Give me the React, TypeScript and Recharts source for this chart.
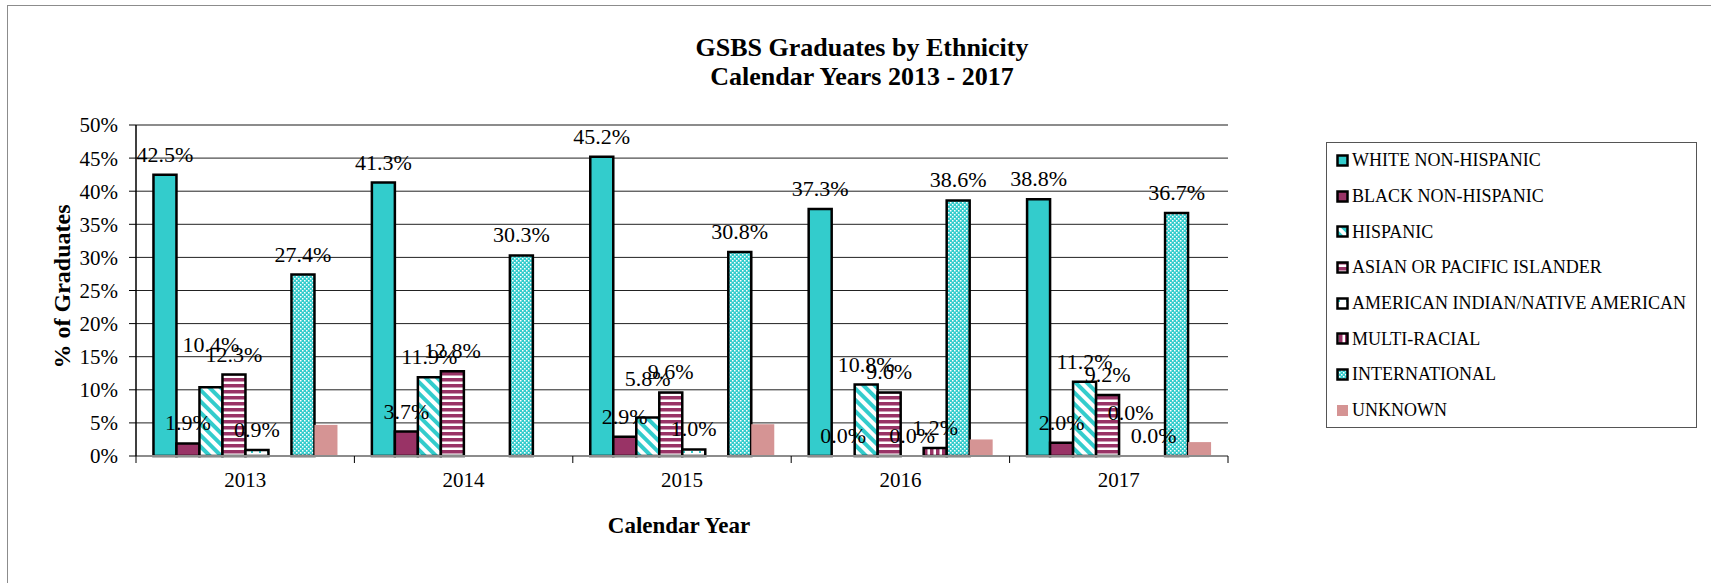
// GSBS graduates by ethnicity, 2013-2017: patterned grouped bars in Recharts
import { BarChart, Bar, XAxis, YAxis, CartesianGrid, LabelList, Legend, ReferenceLine, Rectangle } from 'recharts';

const years = ['2013', '2014', '2015', '2016', '2017'];
const whiteNonHispanic = [42.5, 41.3, 45.2, 37.3, 38.8];
const blackNonHispanic = [1.9, 3.7, 2.9, 0.0, 2.0];
const hispanic = [10.4, 11.9, 5.8, 10.8, 11.2];
const asianPacific = [12.3, 12.8, 9.6, 9.6, 9.2];
const americanIndian = [0.9, null, 1.0, 0.0, 0.0];
const multiRacial = [null, null, null, 1.2, 0.0];
const international = [27.4, 30.3, 30.8, 38.6, 36.7];
const unknown = [4.7, null, 4.8, 2.5, 2.1];
const yTicks = [0, 5, 10, 15, 20, 25, 30, 35, 40, 45, 50];

const TEAL = '#33CCCC';
const MAROON = '#993366';
const PINK = '#D59494';
const FONT = '"Liberation Serif", "Times New Roman", serif';

// a few labels sit higher in the original, clear of their neighbours
const labelLift: Record<string, number> = { 'amerind-2017': 23, 'hispanic-2013': 22, 'hispanic-2015': 19 };

const series = [
  { key: 'white', name: 'WHITE NON-HISPANIC', fill: TEAL, outlined: true, labelled: true },
  { key: 'black', name: 'BLACK NON-HISPANIC', fill: MAROON, outlined: true, labelled: true },
  { key: 'hispanic', name: 'HISPANIC', fill: 'url(#pat-diag)', outlined: true, labelled: true },
  { key: 'asian', name: 'ASIAN OR PACIFIC ISLANDER', fill: 'url(#pat-hstripe)', outlined: true, labelled: true },
  { key: 'amerind', name: 'AMERICAN INDIAN/NATIVE AMERICAN', fill: 'url(#pat-dots)', outlined: true, labelled: true },
  { key: 'multi', name: 'MULTI-RACIAL', fill: 'url(#pat-vstripe)', outlined: true, labelled: true },
  { key: 'intl', name: 'INTERNATIONAL', fill: 'url(#pat-check)', outlined: true, labelled: true },
  { key: 'unknown', name: 'UNKNOWN', fill: PINK, outlined: false, labelled: false },
];

const data = years.map((year, i) => ({
  year,
  white: whiteNonHispanic[i],
  black: blackNonHispanic[i],
  hispanic: hispanic[i],
  asian: asianPacific[i],
  amerind: americanIndian[i],
  multi: multiRacial[i],
  intl: international[i],
  unknown: unknown[i],
}));

function Patterns() {
  return (
    <svg width={0} height={0} style={{ position: 'absolute' }}>
      <defs>
        <pattern id="pat-diag" width={8} height={8} patternUnits="userSpaceOnUse" patternTransform="rotate(-45)">
          <rect width={8} height={8} fill="#fff" />
          <rect width={4} height={8} fill={TEAL} />
        </pattern>
        <pattern id="pat-hstripe" width={6} height={6} patternUnits="userSpaceOnUse">
          <rect width={6} height={6} fill="#fff" />
          <rect width={6} height={3.5} fill={MAROON} />
        </pattern>
        <pattern id="pat-vstripe" width={6} height={6} patternUnits="userSpaceOnUse">
          <rect width={6} height={6} fill="#fff" />
          <rect width={3.5} height={6} fill={MAROON} />
        </pattern>
        <pattern id="pat-dots" width={8} height={8} patternUnits="userSpaceOnUse">
          <rect width={8} height={8} fill="#fff" />
          <rect x={3} y={3} width={2} height={2} fill={TEAL} />
        </pattern>
        <pattern id="pat-check" width={4} height={4} patternUnits="userSpaceOnUse">
          <rect width={4} height={4} fill={TEAL} />
          <rect x={0} y={0} width={1.5} height={1.5} fill="#fff" />
          <rect x={2} y={2} width={1.5} height={1.5} fill="#fff" />
        </pattern>
      </defs>
    </svg>
  );
}

// zero values get a hairline height so their label is kept, but no bar is drawn
const zeroLift = (v: any) => (v === 0 ? 0.01 : 0);

function BarShape(props: any) {
  if (!props.height || props.height < 0.5) return <g />;
  return <Rectangle {...props} />;
}

// label value carries its year along: "2017|0"
const labelValue = (key: string) => (d: any) => (d[key] === null || d[key] === undefined ? undefined : `${d.year}|${d[key]}`);

function renderValueLabel(seriesKey: string, props: any) {
  const vb = props.viewBox ?? props;
  if (props.value === null || props.value === undefined) return null;
  const [year, raw] = String(props.value).split('|');
  const lift = labelLift[`${seriesKey}-${year}`] ?? 0;
  return (
    <text x={vb.x + vb.width / 2} y={vb.y - 13 - lift} textAnchor="middle" fontSize={22} fontFamily={FONT} fill="#000">
      {Number(raw).toFixed(1)}%
    </text>
  );
}

function YearTick(props: any) {
  const { x, y, payload, width } = props;
  const half = payload.offset ?? width / (2 * years.length);
  const last = payload.index === years.length - 1;
  return (
    <g>
      <line x1={x - half} y1={y} x2={x - half} y2={y + 7} stroke="#000" strokeWidth={1} />
      {last && <line x1={x + half} y1={y} x2={x + half} y2={y + 7} stroke="#000" strokeWidth={1} />}
      <text x={x} y={y + 31} textAnchor="middle" fontSize={21} fontFamily={FONT} fill="#000">
        {payload.value}
      </text>
    </g>
  );
}

function LegendBox() {
  return (
    <div style={{ border: '1px solid #555', boxSizing: 'border-box', width: 371, height: 286, background: '#fff' }}>
      {series.map((s) => (
        <div key={s.key} style={{ height: 35.7, display: 'flex', alignItems: 'center', fontFamily: FONT, fontSize: 18, color: '#000' }}>
          <svg width={24} height={14} style={{ flex: 'none' }}>
            <rect
              x={s.outlined ? 10.5 : 10}
              y={s.outlined ? 1.5 : 1}
              width={s.outlined ? 10 : 11}
              height={s.outlined ? 10 : 11}
              fill={s.fill}
              stroke={s.outlined ? '#000' : 'none'}
              strokeWidth={2.5}
            />
          </svg>
          <span style={{ whiteSpace: 'nowrap', marginLeft: 1 }}>{s.name}</span>
        </div>
      ))}
    </div>
  );
}

function YTitle(props: any) {
  const vb = props.viewBox;
  const cx = vb.x - 14;
  const cy = vb.y + vb.height / 2 - 4;
  return (
    <text x={cx} y={cy} transform={`rotate(-90, ${cx}, ${cy})`} textAnchor="middle" dominantBaseline="central"
      fontSize={24} fontWeight="bold" fontFamily={FONT} fill="#000">
      % of Graduates
    </text>
  );
}

function XTitle(props: any) {
  const vb = props.viewBox;
  return (
    <text x={vb.x + vb.width / 2 - 3} y={vb.y + 69} textAnchor="middle" dominantBaseline="central"
      fontSize={23} fontWeight="bold" fontFamily={FONT} fill="#000">
      Calendar Year
    </text>
  );
}

export default function App() {
  return (
    <div style={{ position: 'absolute', left: 0, top: 0, width: 1711, height: 583, overflow: 'hidden', background: '#fff' }}>
      <Patterns />
      <div style={{ position: 'absolute', left: 7, top: 5, width: 1760, height: 640, border: '1.5px solid #8c8c8c' }} />
      <div style={{ position: 'absolute', left: 562, top: 33, width: 600, textAlign: 'center', fontFamily: FONT,
        fontWeight: 'bold', fontSize: 26, lineHeight: '29px', color: '#000' }}>
        GSBS Graduates by Ethnicity<br />Calendar Years 2013 - 2017
      </div>
      <BarChart
        width={1711}
        height={583}
        data={data}
        margin={{ top: 125, right: 483, bottom: 97, left: 76 }}
        barCategoryGap="8%"
        barGap={0}
        style={{ position: 'absolute', left: 0, top: 0 }}
      >
        <CartesianGrid vertical={false} stroke="#222" strokeWidth={1} />
        <XAxis
          dataKey="year"
          height={30}
          tickLine={false}
          tickSize={0}
          tickMargin={0}
          axisLine={{ stroke: '#8c8c8c', strokeWidth: 2 }}
          tick={<YearTick />}
          interval={0}
          label={<XTitle />}
        />
        <YAxis
          width={60}
          domain={[0, 50]}
          ticks={yTicks}
          interval={0}
          tickFormatter={(v: number) => `${v}%`}
          tickSize={7}
          tickMargin={11}
          tickLine={{ stroke: '#000' }}
          axisLine={{ stroke: '#000', strokeWidth: 1.5 }}
          tick={{ fill: '#000', fontSize: 21, fontFamily: FONT }}
          label={<YTitle />}
        />
        <YAxis
          yAxisId="frame"
          orientation="right"
          width={0}
          domain={[0, 50]}
          allowDataOverflow
          tick={false}
          tickLine={false}
          axisLine={{ stroke: '#8c8c8c', strokeWidth: 2 }}
        />
        <ReferenceLine y={50} stroke="#8c8c8c" strokeWidth={2} />
        <Legend
          layout="horizontal"
          verticalAlign="middle"
          align="center"
          content={<LegendBox />}
          wrapperStyle={{ left: 1326, top: 142, width: 371, height: 286 }}
        />
        {series.map((s) => (
          <Bar
            key={s.key}
            dataKey={s.key}
            name={s.name}
            fill={s.fill}
            stroke={s.outlined ? '#000' : 'none'}
            strokeWidth={2.5}
            minPointSize={zeroLift}
            shape={<BarShape />}
            isAnimationActive={false}
          >
            {s.labelled && (
              <LabelList dataKey={labelValue(s.key)} content={(p: any) => renderValueLabel(s.key, p)} />
            )}
          </Bar>
        ))}
      </BarChart>
    </div>
  );
}
